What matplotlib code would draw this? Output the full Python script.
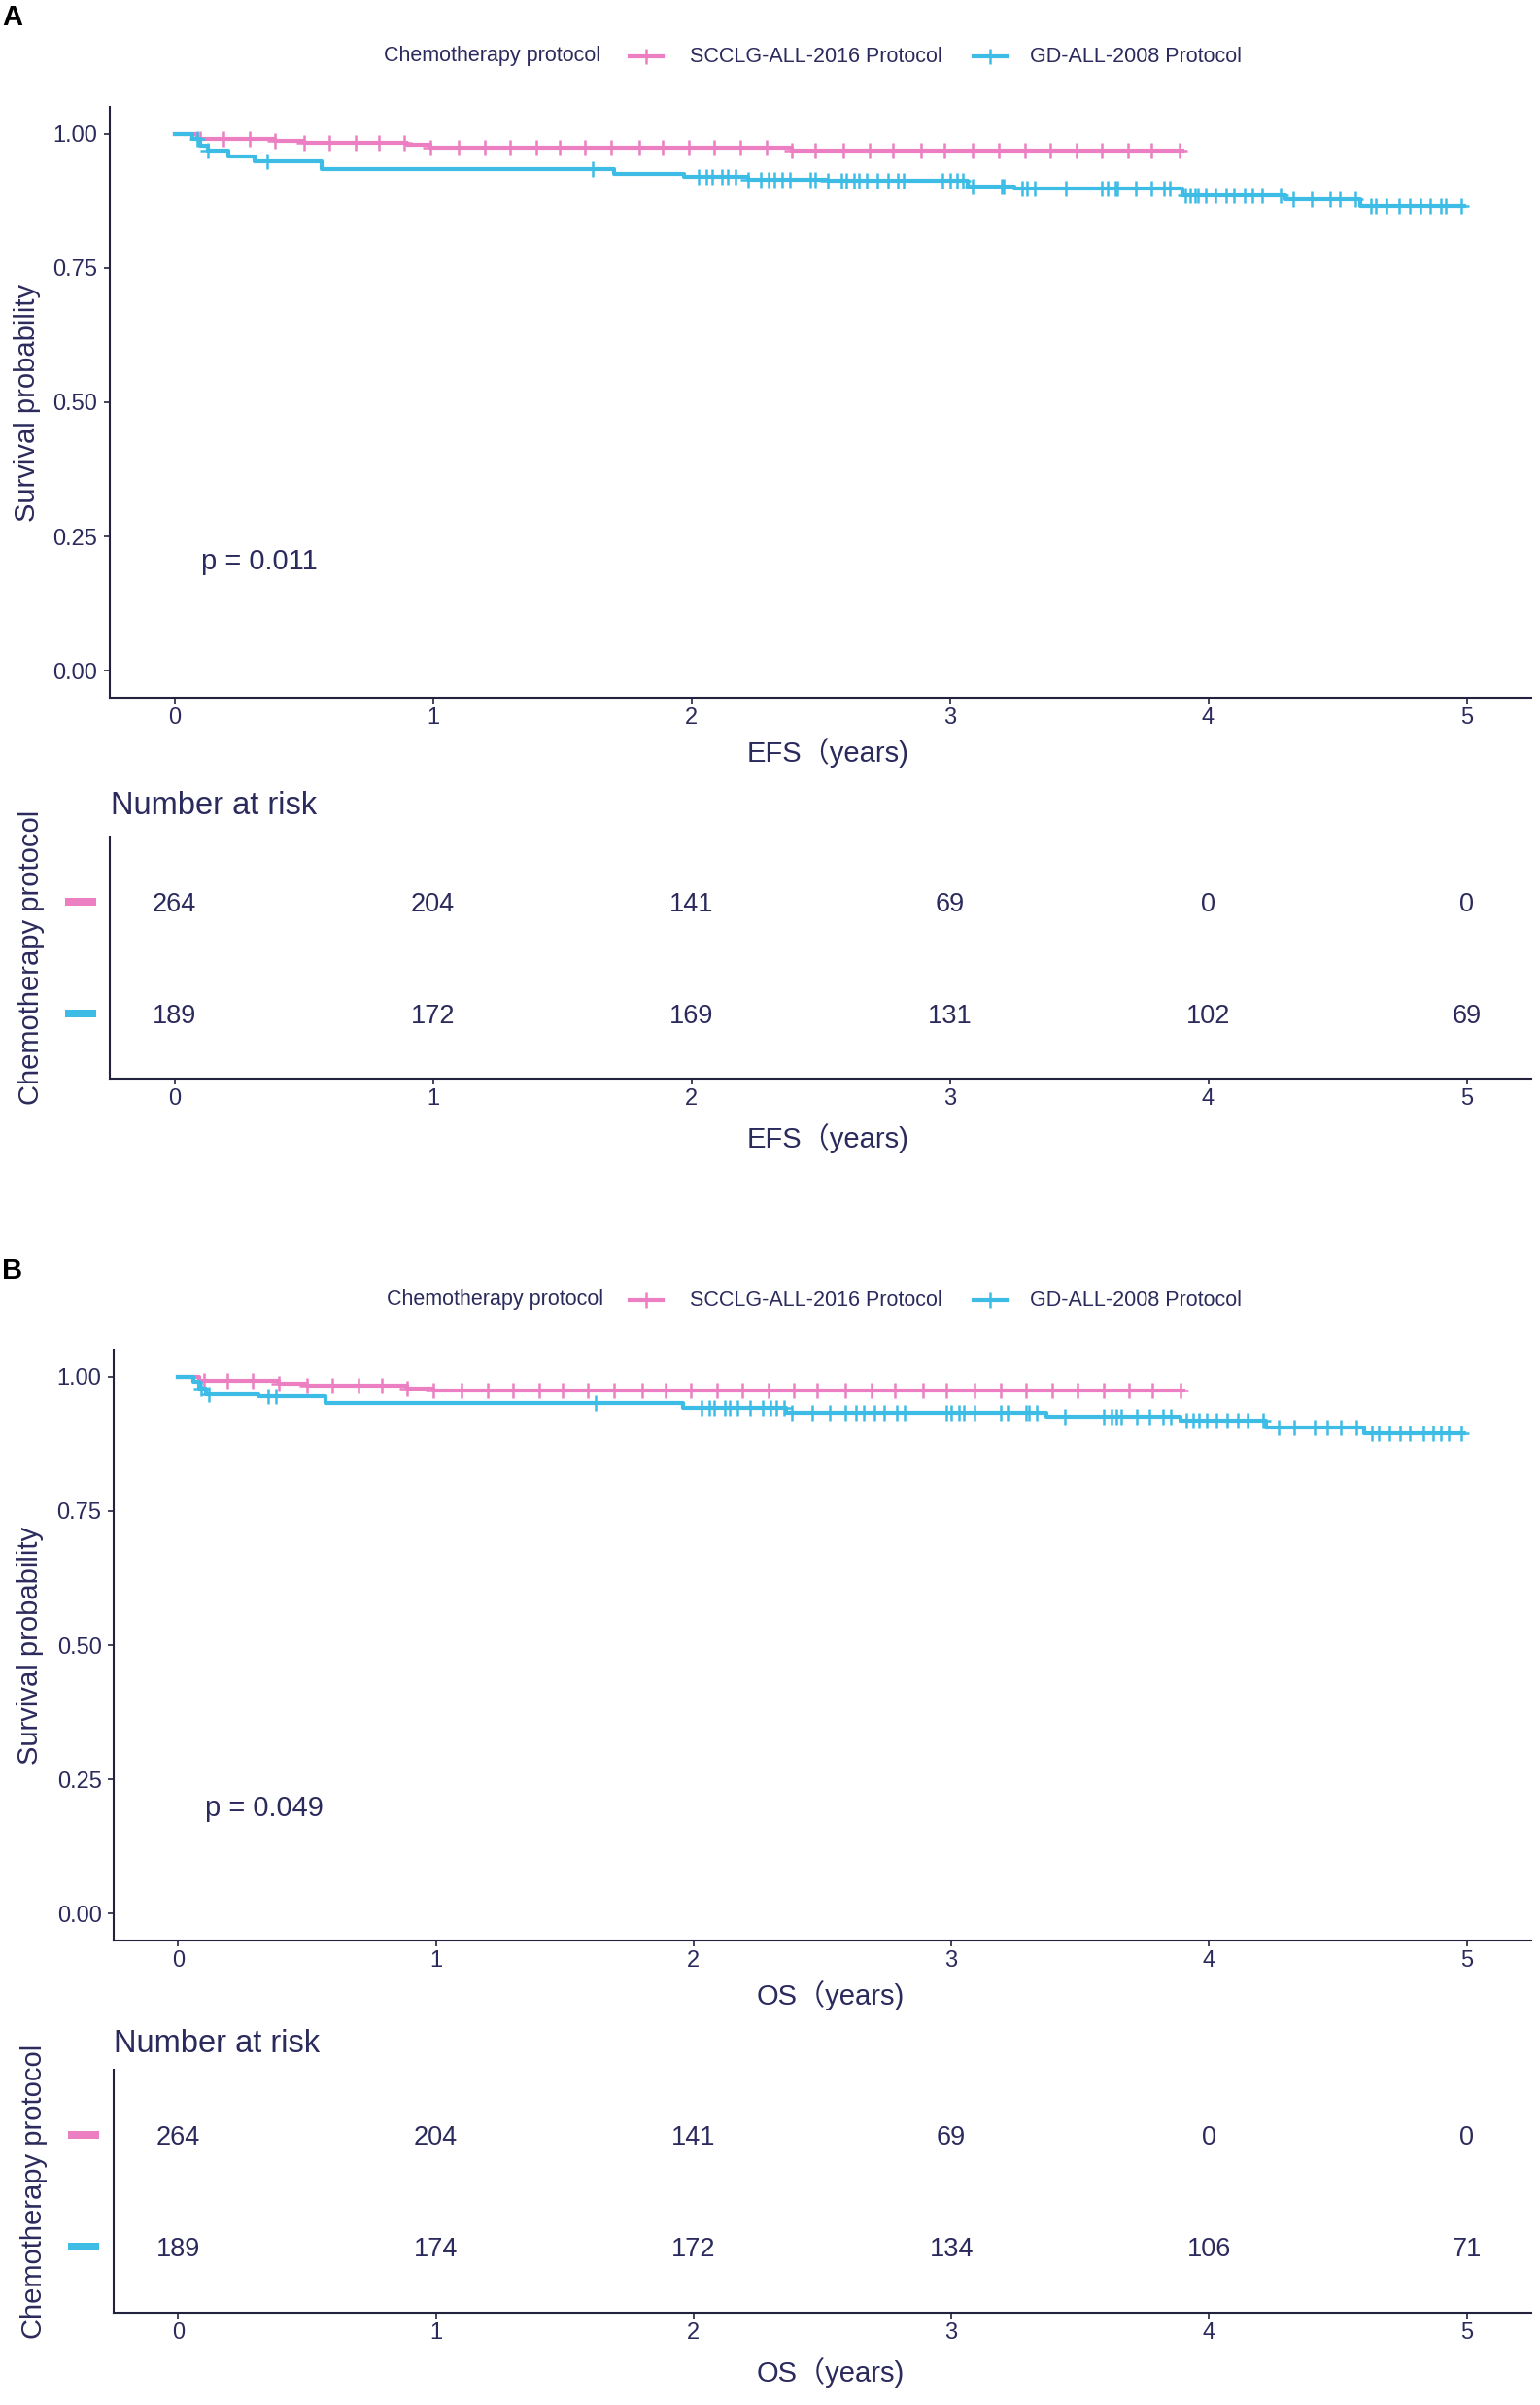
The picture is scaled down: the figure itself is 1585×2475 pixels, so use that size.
import numpy as np
import matplotlib
matplotlib.use("Agg")
import matplotlib.pyplot as plt
from matplotlib.lines import Line2D
from matplotlib.patches import Rectangle

plt.rcParams['font.family'] = ['Liberation Sans', 'Noto Sans CJK SC', 'DejaVu Sans']

W, H = 1585, 2475
TXT = "#2b2a5c"
AXC = "#22223f"
PINK = "#EC7FC2"
BLUE = "#3DBCE6"

groups = ["SCCLG-ALL-2016 Protocol", "GD-ALL-2008 Protocol"]
years = [0, 1, 2, 3, 4, 5]
yticks = [0.0, 0.25, 0.5, 0.75, 1.0]

# EFS - step points (time in years, survival)
efs_pink_t = [0, 0.09, 0.39, 0.50, 0.90, 0.99, 2.39, 3.90]
efs_pink_s = [1.0, 0.991, 0.986, 0.983, 0.979, 0.974, 0.968, 0.968]
efs_blue_t = [0, 0.07, 0.10, 0.13, 0.21, 0.31, 0.57, 1.70, 1.97, 2.22, 2.53, 3.07, 3.25,
              3.90, 4.30, 4.59, 4.99]
efs_blue_s = [1.0, 0.991, 0.977, 0.968, 0.958, 0.949, 0.935, 0.925, 0.919, 0.915, 0.912,
              0.902, 0.898, 0.886, 0.879, 0.865, 0.865]

# OS - step points
os_pink_t = [0, 0.08, 0.39, 0.50, 0.89, 0.99, 3.90]
os_pink_s = [1.0, 0.9925, 0.986, 0.983, 0.978, 0.974, 0.974]
os_blue_t = [0, 0.06, 0.08, 0.11, 0.31, 0.57, 1.96, 2.36, 3.37, 3.89, 4.22, 4.60, 4.99]
os_blue_s = [1.0, 0.99, 0.978, 0.9675, 0.9625, 0.950, 0.941, 0.933, 0.926, 0.918, 0.906,
             0.895, 0.895]

# censoring times
pink_cens = [0.10, 0.19, 0.29, 0.39, 0.50, 0.60, 0.70, 0.79, 0.89, 0.99, 1.10, 1.20, 1.30,
             1.40, 1.49, 1.59, 1.69, 1.80, 1.89, 1.99, 2.09, 2.19, 2.29, 2.39, 2.48, 2.59,
             2.69, 2.78, 2.89, 2.98, 3.09, 3.19, 3.29, 3.39, 3.49, 3.59, 3.69, 3.78, 3.89]
efs_blue_cens = [0.09, 0.13, 0.36, 1.62, 2.03, 2.06, 2.08, 2.12, 2.14, 2.17, 2.22, 2.27,
                 2.30, 2.32, 2.35, 2.38, 2.46, 2.48, 2.53, 2.58, 2.60, 2.63, 2.65, 2.68,
                 2.72, 2.76, 2.80, 2.82, 2.97, 3.00, 3.03, 3.05, 3.09, 3.20, 3.21, 3.28,
                 3.30, 3.33, 3.45, 3.59, 3.61, 3.64, 3.65, 3.72, 3.78, 3.83, 3.85, 3.91,
                 3.93, 3.95, 3.96, 3.99, 4.03, 4.07, 4.10, 4.14, 4.17, 4.21, 4.28, 4.33,
                 4.40, 4.47, 4.51, 4.57, 4.63, 4.65, 4.69, 4.74, 4.78, 4.82, 4.86, 4.90,
                 4.92, 4.98]
os_blue_cens = [0.09, 0.12, 0.35, 0.38, 1.62, 2.03, 2.06, 2.08, 2.12, 2.14, 2.17, 2.22,
                2.27, 2.30, 2.32, 2.35, 2.38, 2.46, 2.53, 2.59, 2.63, 2.66, 2.70, 2.74,
                2.79, 2.82, 2.98, 3.00, 3.03, 3.05, 3.09, 3.19, 3.22, 3.29, 3.30, 3.33,
                3.44, 3.59, 3.62, 3.64, 3.66, 3.72, 3.77, 3.82, 3.85, 3.91, 3.94, 3.96,
                3.99, 4.03, 4.07, 4.11, 4.15, 4.21, 4.27, 4.33, 4.41, 4.46, 4.51, 4.57,
                4.63, 4.66, 4.70, 4.74, 4.78, 4.83, 4.87, 4.90, 4.93, 4.98]

# number at risk
efs_risk_pink = [264, 204, 141, 69, 0, 0]
efs_risk_blue = [189, 172, 169, 131, 102, 69]
os_risk_pink = [264, 204, 141, 69, 0, 0]
os_risk_blue = [189, 174, 172, 134, 106, 71]

fig = plt.figure(figsize=(W / 100, H / 100), dpi=100)
fig.patch.set_facecolor("white")


def fx(px):
    return px / W


def fy(py):
    return 1 - py / H


def add_ax(left, top, right, bottom):
    return fig.add_axes([fx(left), fy(bottom), (right - left) / W, (bottom - top) / H])


def style_ax(ax):
    for s in ["top", "right"]:
        ax.spines[s].set_visible(False)
    for s in ["left", "bottom"]:
        ax.spines[s].set_color(AXC)
        ax.spines[s].set_linewidth(1.5)
    ax.tick_params(direction="out", length=4.5, width=1.2, color=AXC,
                   labelcolor=TXT, labelsize=17)
    ax.tick_params(axis="x", pad=2.5)
    ax.tick_params(axis="y", pad=4.5)
    ax.set_xlim(-0.25, 5.25)
    ax.set_xticks(years)
    ax.set_xticklabels([str(y) for y in years])


def km(ax, t, s, cens, color):
    t = np.array(t)
    s = np.array(s)
    ax.step(t, s, where="post", color=color, lw=3.0)
    idx = np.searchsorted(t, cens, side="right") - 1
    ax.plot(cens, s[idx], ls="none", marker="+", ms=12, mew=1.8, color=color)


def panel(tag, tag_y, leg_y, title_x, surv_box, risk_box, curves, pval, p_xy,
          xlab, risk, ylab_x, nar_xy, bar_x):
    fig.text(fx(2), fy(tag_y), tag, fontsize=21, fontweight="bold", color="black",
             ha="left", va="center")

    # legend row
    fig.text(fx(title_x), fy(leg_y), "Chemotherapy protocol", fontsize=15.5, color=TXT,
             ha="left", va="center")
    for (k0, k1, lx), col, lab in zip([(648, 682, 710), (1002, 1036, 1060)],
                                      [PINK, BLUE], groups):
        fig.add_artist(Line2D([fx(k0), fx(k1)], [fy(leg_y)] * 2, color=col, lw=3.0,
                              transform=fig.transFigure))
        fig.add_artist(Line2D([fx((k0 + k1) / 2)], [fy(leg_y)], color=col, ls="none",
                              marker="+", ms=12, mew=1.8, transform=fig.transFigure))
        fig.text(fx(lx), fy(leg_y), lab, fontsize=15.5, color=TXT, ha="left",
                 va="center")

    # survival curves
    ax = add_ax(*surv_box)
    style_ax(ax)
    ax.set_ylim(-0.05, 1.05)
    ax.set_yticks(yticks)
    ax.set_yticklabels(["%.2f" % v for v in yticks])
    for (t, s, c), col in zip(curves, [PINK, BLUE]):
        km(ax, t, s, c, col)
    fig.text(fx(p_xy[0]), fy(p_xy[1]), pval, fontsize=21, color=TXT, ha="left",
             va="center")
    l, top, r, bot = surv_box
    fig.text(fx((l + r) / 2 + 8), fy(bot + 57), xlab, fontsize=21, color=TXT,
             ha="center", va="center")
    fig.text(fx(ylab_x), fy((top + bot) / 2), "Survival probability", fontsize=21,
             color=TXT, rotation=90, ha="center", va="center")

    # risk table
    rx = add_ax(*risk_box)
    style_ax(rx)
    rl, rt, rr, rb = risk_box
    row_h = 115.0
    y_lo = 1 - (rb - (rt + 70 + row_h)) / row_h
    y_hi = 2 + 70 / row_h
    rx.set_ylim(y_lo, y_hi)
    rx.set_yticks([])
    for row, vals in zip([2, 1], risk):
        for yr, v in zip(years, vals):
            rx.text(yr, row, str(v), fontsize=19.5, color=TXT, ha="center", va="center")
    fig.text(fx((rl + rr) / 2 + 8), fy(rb + 62), xlab, fontsize=21, color=TXT,
             ha="center", va="center")
    fig.text(fx(nar_xy[0]), fy(nar_xy[1]), "Number at risk", fontsize=23.5, color=TXT,
             ha="left", va="center")
    fig.text(fx(ylab_x + 4), fy((rt + rb) / 2), "Chemotherapy protocol", fontsize=21,
             color=TXT, rotation=90, ha="center", va="center")
    for row, col in zip([2, 1], [PINK, BLUE]):
        yc = rt + (y_hi - row) * row_h - 3
        fig.patches.append(Rectangle((fx(bar_x), fy(yc + 4)), 32 / W, 8 / H,
                                     transform=fig.transFigure, color=col, lw=0))


panel("A", 18, 58, 395, (113, 110, 1576, 718), (113, 861, 1576, 1110),
      [(efs_pink_t, efs_pink_s, pink_cens), (efs_blue_t, efs_blue_s, efs_blue_cens)],
      "p = 0.011", (207, 578), "EFS（years)", [efs_risk_pink, efs_risk_blue],
      28, (114, 830), 67)

panel("B", 1308, 1338, 398, (117, 1389, 1576, 1997), (117, 2130, 1576, 2380),
      [(os_pink_t, os_pink_s, pink_cens), (os_blue_t, os_blue_s, os_blue_cens)],
      "p = 0.049", (211, 1861), "OS（years)", [os_risk_pink, os_risk_blue],
      31, (117, 2103), 70)

fig.savefig("out.png", dpi=100, facecolor="white")
